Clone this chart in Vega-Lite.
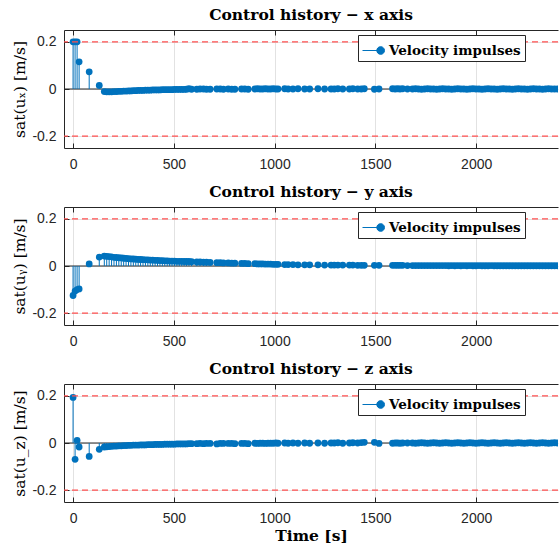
{
  "$schema": "https://vega.github.io/schema/vega-lite/v6.json",
  "background": "white",
  "padding": {"left": 12, "top": 8, "right": 0, "bottom": 0},
  "data": {"values": [
    {"t": 0, "x": 0.2, "y": -0.125, "z": 0.193},
    {"t": 10, "x": 0.2, "y": -0.106, "z": -0.069},
    {"t": 20, "x": 0.2, "y": -0.1, "z": 0.011},
    {"t": 30, "x": 0.115, "y": -0.097, "z": -0.017},
    {"t": 80, "x": 0.073, "y": 0.009, "z": -0.057},
    {"t": 130, "x": 0.015, "y": 0.038, "z": -0.027},
    {"t": 155, "x": -0.011, "y": 0.042, "z": -0.017},
    {"t": 167, "x": -0.012, "y": 0.041, "z": -0.016},
    {"t": 179, "x": -0.012, "y": 0.04, "z": -0.015},
    {"t": 191, "x": -0.012, "y": 0.039, "z": -0.014},
    {"t": 203, "x": -0.011, "y": 0.037, "z": -0.013},
    {"t": 215, "x": -0.011, "y": 0.036, "z": -0.013},
    {"t": 227, "x": -0.01, "y": 0.035, "z": -0.012},
    {"t": 239, "x": -0.01, "y": 0.034, "z": -0.012},
    {"t": 251, "x": -0.009, "y": 0.033, "z": -0.011},
    {"t": 263, "x": -0.009, "y": 0.032, "z": -0.011},
    {"t": 275, "x": -0.008, "y": 0.031, "z": -0.01},
    {"t": 287, "x": -0.008, "y": 0.03, "z": -0.01},
    {"t": 299, "x": -0.007, "y": 0.03, "z": -0.009},
    {"t": 311, "x": -0.007, "y": 0.029, "z": -0.009},
    {"t": 323, "x": -0.006, "y": 0.028, "z": -0.009},
    {"t": 335, "x": -0.006, "y": 0.028, "z": -0.008},
    {"t": 347, "x": -0.006, "y": 0.027, "z": -0.008},
    {"t": 359, "x": -0.005, "y": 0.026, "z": -0.008},
    {"t": 371, "x": -0.005, "y": 0.026, "z": -0.007},
    {"t": 383, "x": -0.005, "y": 0.025, "z": -0.007},
    {"t": 395, "x": -0.004, "y": 0.025, "z": -0.007},
    {"t": 407, "x": -0.004, "y": 0.024, "z": -0.006},
    {"t": 419, "x": -0.004, "y": 0.024, "z": -0.006},
    {"t": 431, "x": -0.004, "y": 0.023, "z": -0.006},
    {"t": 443, "x": -0.003, "y": 0.023, "z": -0.006},
    {"t": 455, "x": -0.003, "y": 0.022, "z": -0.005},
    {"t": 467, "x": -0.003, "y": 0.022, "z": -0.005},
    {"t": 479, "x": -0.003, "y": 0.021, "z": -0.005},
    {"t": 491, "x": -0.003, "y": 0.021, "z": -0.005},
    {"t": 503, "x": -0.002, "y": 0.021, "z": -0.005},
    {"t": 515, "x": -0.002, "y": 0.02, "z": -0.004},
    {"t": 527, "x": -0.002, "y": 0.02, "z": -0.004},
    {"t": 539, "x": -0.002, "y": 0.02, "z": -0.004},
    {"t": 551, "x": -0.002, "y": 0.019, "z": -0.004},
    {"t": 563, "x": -0.001, "y": 0.019, "z": -0.004},
    {"t": 575, "x": 0.001, "y": 0.019, "z": -0.003},
    {"t": 588, "x": -0.001, "y": 0.018, "z": -0.003},
    {"t": 614, "x": -0.001, "y": 0.017, "z": -0.003},
    {"t": 630, "x": 0.0, "y": 0.017, "z": -0.002},
    {"t": 647, "x": 0.0, "y": 0.016, "z": -0.003},
    {"t": 662, "x": -0.001, "y": 0.016, "z": -0.002},
    {"t": 680, "x": -0.001, "y": 0.015, "z": -0.002},
    {"t": 713, "x": 0.0, "y": 0.014, "z": -0.004},
    {"t": 730, "x": 0.0, "y": 0.014, "z": -0.002},
    {"t": 746, "x": -0.001, "y": 0.013, "z": -0.002},
    {"t": 770, "x": 0.0, "y": 0.013, "z": -0.002},
    {"t": 787, "x": -0.001, "y": 0.012, "z": -0.002},
    {"t": 803, "x": -0.001, "y": 0.012, "z": -0.003},
    {"t": 836, "x": 0.0, "y": 0.011, "z": -0.002},
    {"t": 852, "x": 0.0, "y": 0.011, "z": -0.002},
    {"t": 869, "x": -0.001, "y": 0.01, "z": -0.003},
    {"t": 902, "x": 0.0, "y": 0.01, "z": -0.001},
    {"t": 915, "x": 0.001, "y": 0.009, "z": -0.002},
    {"t": 928, "x": 0.0, "y": 0.009, "z": -0.001},
    {"t": 941, "x": 0.0, "y": 0.009, "z": -0.001},
    {"t": 954, "x": 0.001, "y": 0.008, "z": -0.002},
    {"t": 967, "x": 0.0, "y": 0.008, "z": -0.001},
    {"t": 980, "x": 0.0, "y": 0.008, "z": -0.001},
    {"t": 993, "x": 0.001, "y": 0.007, "z": -0.001},
    {"t": 1006, "x": 0.0, "y": 0.007, "z": 0.0},
    {"t": 1017, "x": 0.0, "y": 0.007, "z": -0.001},
    {"t": 1050, "x": 0.001, "y": 0.006, "z": 0.0},
    {"t": 1067, "x": 0.0, "y": 0.006, "z": -0.001},
    {"t": 1091, "x": 0.0, "y": 0.006, "z": 0.0},
    {"t": 1116, "x": 0.001, "y": 0.005, "z": -0.001},
    {"t": 1149, "x": 0.0, "y": 0.005, "z": 0.0},
    {"t": 1174, "x": 0.0, "y": 0.005, "z": -0.001},
    {"t": 1215, "x": 0.001, "y": 0.005, "z": 0.0},
    {"t": 1248, "x": 0.0, "y": 0.004, "z": -0.001},
    {"t": 1280, "x": 0.0, "y": 0.004, "z": 0.0},
    {"t": 1296, "x": 0.0, "y": 0.004, "z": 0.0},
    {"t": 1314, "x": 0.001, "y": 0.004, "z": 0.001},
    {"t": 1338, "x": 0.0, "y": 0.004, "z": -0.001},
    {"t": 1371, "x": 0.0, "y": 0.004, "z": 0.0},
    {"t": 1388, "x": 0.001, "y": 0.004, "z": 0.001},
    {"t": 1412, "x": 0.0, "y": 0.003, "z": 0.0},
    {"t": 1430, "x": 0.0, "y": 0.003, "z": 0.002},
    {"t": 1445, "x": 0.001, "y": 0.003, "z": 0.003},
    {"t": 1495, "x": -0.001, "y": 0.003, "z": 0.003},
    {"t": 1518, "x": 0.0, "y": 0.003, "z": -0.002},
    {"t": 1585, "x": 0.001, "y": 0.003, "z": -0.001},
    {"t": 1598, "x": 0.0, "y": 0.003, "z": 0.0},
    {"t": 1610, "x": 0.001, "y": 0.003, "z": 0.0},
    {"t": 1622, "x": 0.0, "y": 0.003, "z": -0.001},
    {"t": 1635, "x": 0.001, "y": 0.003, "z": 0.0},
    {"t": 1659, "x": 0.0, "y": 0.002, "z": 0.0},
    {"t": 1684, "x": 0.0, "y": 0.002, "z": 0.0},
    {"t": 1699, "x": 0.001, "y": 0.002, "z": -0.001},
    {"t": 1714, "x": 0.0, "y": 0.002, "z": 0.0},
    {"t": 1729, "x": -0.001, "y": 0.002, "z": 0.001},
    {"t": 1744, "x": 0.0, "y": 0.002, "z": 0.0},
    {"t": 1759, "x": 0.001, "y": 0.002, "z": -0.001},
    {"t": 1774, "x": 0.0, "y": 0.002, "z": 0.0},
    {"t": 1789, "x": 0.0, "y": 0.002, "z": 0.001},
    {"t": 1804, "x": -0.001, "y": 0.002, "z": 0.0},
    {"t": 1819, "x": 0.0, "y": 0.002, "z": -0.001},
    {"t": 1834, "x": 0.001, "y": 0.002, "z": 0.0},
    {"t": 1849, "x": 0.0, "y": 0.002, "z": 0.001},
    {"t": 1864, "x": 0.0, "y": 0.001, "z": 0.0},
    {"t": 1879, "x": -0.001, "y": 0.002, "z": -0.001},
    {"t": 1894, "x": 0.0, "y": 0.001, "z": 0.0},
    {"t": 1909, "x": 0.001, "y": 0.002, "z": 0.001},
    {"t": 1924, "x": 0.0, "y": 0.001, "z": 0.0},
    {"t": 1939, "x": 0.0, "y": 0.002, "z": -0.001},
    {"t": 1954, "x": -0.001, "y": 0.001, "z": 0.0},
    {"t": 1969, "x": 0.0, "y": 0.002, "z": 0.001},
    {"t": 1984, "x": 0.001, "y": 0.001, "z": 0.0},
    {"t": 1999, "x": 0.0, "y": 0.001, "z": -0.001},
    {"t": 2014, "x": 0.0, "y": 0.002, "z": 0.0},
    {"t": 2029, "x": -0.001, "y": 0.001, "z": 0.001},
    {"t": 2044, "x": 0.0, "y": 0.001, "z": 0.0},
    {"t": 2059, "x": 0.001, "y": 0.001, "z": -0.001},
    {"t": 2074, "x": 0.0, "y": 0.002, "z": 0.0},
    {"t": 2089, "x": 0.0, "y": 0.001, "z": 0.001},
    {"t": 2104, "x": -0.001, "y": 0.001, "z": 0.0},
    {"t": 2119, "x": 0.0, "y": 0.001, "z": -0.001},
    {"t": 2134, "x": 0.001, "y": 0.001, "z": 0.0},
    {"t": 2149, "x": 0.0, "y": 0.001, "z": 0.001},
    {"t": 2164, "x": 0.0, "y": 0.001, "z": 0.0},
    {"t": 2179, "x": -0.001, "y": 0.001, "z": -0.001},
    {"t": 2194, "x": 0.0, "y": 0.001, "z": 0.0},
    {"t": 2209, "x": 0.001, "y": 0.001, "z": 0.001},
    {"t": 2224, "x": 0.0, "y": 0.001, "z": 0.0},
    {"t": 2239, "x": 0.0, "y": 0.001, "z": -0.001},
    {"t": 2254, "x": -0.001, "y": 0.001, "z": 0.0},
    {"t": 2269, "x": 0.0, "y": 0.001, "z": 0.001},
    {"t": 2284, "x": 0.001, "y": 0.001, "z": 0.0},
    {"t": 2299, "x": 0.0, "y": 0.001, "z": -0.001},
    {"t": 2314, "x": 0.0, "y": 0.001, "z": 0.0},
    {"t": 2329, "x": -0.001, "y": 0.001, "z": 0.001},
    {"t": 2344, "x": 0.0, "y": 0.001, "z": 0.0},
    {"t": 2359, "x": 0.001, "y": 0.001, "z": -0.001},
    {"t": 2374, "x": 0.0, "y": 0.001, "z": 0.0},
    {"t": 2389, "x": 0.0, "y": 0.001, "z": 0.001},
    {"t": 2404, "x": 0.0, "y": 0.001, "z": 0.0}
  ]},
  "config": {
    "view": {"stroke": null},
    "axis": {
      "labelFont": "Liberation Sans", "labelFontSize": 14, "labelColor": "#262626",
      "domainColor": "#262626", "tickColor": "#262626", "gridColor": "#E2E2E2",
      "titleFont": "DejaVu Serif", "titleFontSize": 15.5, "titleFontWeight": "normal", "titleColor": "#000000"
    },
    "title": {"font": "DejaVu Serif", "fontSize": 15.5, "fontWeight": "bold", "color": "#000000", "offset": 6},
    "legend": {
      "strokeColor": "#262626", "fillColor": "white", "padding": 4, "cornerRadius": 0,
      "labelFont": "DejaVu Serif", "labelFontWeight": "bold", "labelFontSize": 13.5, "labelColor": "#000000",
      "symbolType": "M-1,0L0.65,0M1,0A0.35,0.35,0,1,1,0.3,0A0.35,0.35,0,1,1,1,0Z",
      "symbolSize": 484, "symbolFillColor": "#0072BD", "symbolStrokeColor": "#0072BD", "symbolStrokeWidth": 1
    },
    "concat": {"spacing": 14}
  },
  "resolve": {"scale": {"color": "independent"}, "legend": {"color": "independent"}},
  "vconcat": [
    {
      "width": 494, "height": 118,
      "title": "Control history − x axis",
      "resolve": {"axis": {"x": "independent"}},
      "layer": [
        {"data": {"values": [{}]}, "mark": {"type": "rule", "color": "#262626", "strokeWidth": 1}, "encoding": {"y": {"datum": 0, "type": "quantitative"}}},
        {"mark": {"type": "rule", "color": "#0072BD", "strokeWidth": 1, "clip": true},
         "encoding": {
           "x": {"field": "t", "type": "quantitative", "scale": {"domain": [-45, 2406], "nice": false, "zero": false},
                 "axis": {"values": [0, 500, 1000, 1500, 2000], "format": "d", "title": null, "grid": true, "tickSize": -5, "labelPadding": 14}},
           "y": {"field": "x", "type": "quantitative", "scale": {"domain": [-0.25, 0.25], "nice": false},
                 "axis": {"values": [-0.2, 0, 0.2], "title": "sat(uₓ) [m/s]", "grid": true, "tickSize": -5, "labelPadding": 13,
                          "labelExpr": "datum.value > 0.1 ? '0.2' : datum.value < -0.1 ? '-0.2' : '0'"}},
           "y2": {"datum": 0}
         }},
        {"mark": {"type": "circle", "size": 46, "opacity": 1, "clip": true},
         "encoding": {
           "x": {"field": "t", "type": "quantitative",
                 "axis": {"orient": "top", "values": [0, 500, 1000, 1500, 2000], "labels": false, "title": null, "grid": false, "tickSize": -5}},
           "y": {"field": "x", "type": "quantitative"},
           "color": {"datum": "Velocity impulses", "type": "nominal", "scale": {"range": ["#0072BD"]},
                     "legend": {"title": null, "orient": "none", "legendX": 294, "legendY": 5}}
         }},
        {"data": {"values": [{}]}, "mark": {"type": "rule", "color": "#FF5050", "strokeWidth": 1.3, "strokeDash": [6, 4]}, "encoding": {"y": {"datum": 0.2, "type": "quantitative"}}},
        {"data": {"values": [{}]}, "mark": {"type": "rule", "color": "#FF5050", "strokeWidth": 1.3, "strokeDash": [6, 4]}, "encoding": {"y": {"datum": -0.2, "type": "quantitative"}}}
      ]
    },
    {
      "width": 494, "height": 118,
      "title": "Control history − y axis",
      "resolve": {"axis": {"x": "independent"}},
      "layer": [
        {"data": {"values": [{}]}, "mark": {"type": "rule", "color": "#262626", "strokeWidth": 1}, "encoding": {"y": {"datum": 0, "type": "quantitative"}}},
        {"mark": {"type": "rule", "color": "#0072BD", "strokeWidth": 1, "clip": true},
         "encoding": {
           "x": {"field": "t", "type": "quantitative", "scale": {"domain": [-45, 2406], "nice": false, "zero": false},
                 "axis": {"values": [0, 500, 1000, 1500, 2000], "format": "d", "title": null, "grid": true, "tickSize": -5, "labelPadding": 14}},
           "y": {"field": "y", "type": "quantitative", "scale": {"domain": [-0.25, 0.25], "nice": false},
                 "axis": {"values": [-0.2, 0, 0.2], "title": "sat(uᵧ) [m/s]", "grid": true, "tickSize": -5, "labelPadding": 13,
                          "labelExpr": "datum.value > 0.1 ? '0.2' : datum.value < -0.1 ? '-0.2' : '0'"}},
           "y2": {"datum": 0}
         }},
        {"mark": {"type": "circle", "size": 46, "opacity": 1, "clip": true},
         "encoding": {
           "x": {"field": "t", "type": "quantitative",
                 "axis": {"orient": "top", "values": [0, 500, 1000, 1500, 2000], "labels": false, "title": null, "grid": false, "tickSize": -5}},
           "y": {"field": "y", "type": "quantitative"},
           "color": {"datum": "Velocity impulses", "type": "nominal", "scale": {"range": ["#0072BD"]},
                     "legend": {"title": null, "orient": "none", "legendX": 294, "legendY": 5}}
         }},
        {"data": {"values": [{}]}, "mark": {"type": "rule", "color": "#FF5050", "strokeWidth": 1.3, "strokeDash": [6, 4]}, "encoding": {"y": {"datum": 0.2, "type": "quantitative"}}},
        {"data": {"values": [{}]}, "mark": {"type": "rule", "color": "#FF5050", "strokeWidth": 1.3, "strokeDash": [6, 4]}, "encoding": {"y": {"datum": -0.2, "type": "quantitative"}}}
      ]
    },
    {
      "width": 494, "height": 118,
      "title": "Control history − z axis",
      "resolve": {"axis": {"x": "independent"}},
      "layer": [
        {"data": {"values": [{}]}, "mark": {"type": "rule", "color": "#262626", "strokeWidth": 1}, "encoding": {"y": {"datum": 0, "type": "quantitative"}}},
        {"mark": {"type": "rule", "color": "#0072BD", "strokeWidth": 1, "clip": true},
         "encoding": {
           "x": {"field": "t", "type": "quantitative", "scale": {"domain": [-45, 2406], "nice": false, "zero": false},
                 "axis": {"values": [0, 500, 1000, 1500, 2000], "format": "d", "title": "Time [s]", "titleFontWeight": "bold", "titlePadding": 3, "grid": true, "tickSize": -5, "labelPadding": 14}},
           "y": {"field": "z", "type": "quantitative", "scale": {"domain": [-0.25, 0.25], "nice": false},
                 "axis": {"values": [-0.2, 0, 0.2], "title": "sat(u_z) [m/s]", "grid": true, "tickSize": -5, "labelPadding": 13,
                          "labelExpr": "datum.value > 0.1 ? '0.2' : datum.value < -0.1 ? '-0.2' : '0'"}},
           "y2": {"datum": 0}
         }},
        {"mark": {"type": "circle", "size": 46, "opacity": 1, "clip": true},
         "encoding": {
           "x": {"field": "t", "type": "quantitative",
                 "axis": {"orient": "top", "values": [0, 500, 1000, 1500, 2000], "labels": false, "title": null, "grid": false, "tickSize": -5}},
           "y": {"field": "z", "type": "quantitative"},
           "color": {"datum": "Velocity impulses", "type": "nominal", "scale": {"range": ["#0072BD"]},
                     "legend": {"title": null, "orient": "none", "legendX": 294, "legendY": 5}}
         }},
        {"data": {"values": [{}]}, "mark": {"type": "rule", "color": "#FF5050", "strokeWidth": 1.3, "strokeDash": [6, 4]}, "encoding": {"y": {"datum": 0.2, "type": "quantitative"}}},
        {"data": {"values": [{}]}, "mark": {"type": "rule", "color": "#FF5050", "strokeWidth": 1.3, "strokeDash": [6, 4]}, "encoding": {"y": {"datum": -0.2, "type": "quantitative"}}}
      ]
    }
  ]
}
